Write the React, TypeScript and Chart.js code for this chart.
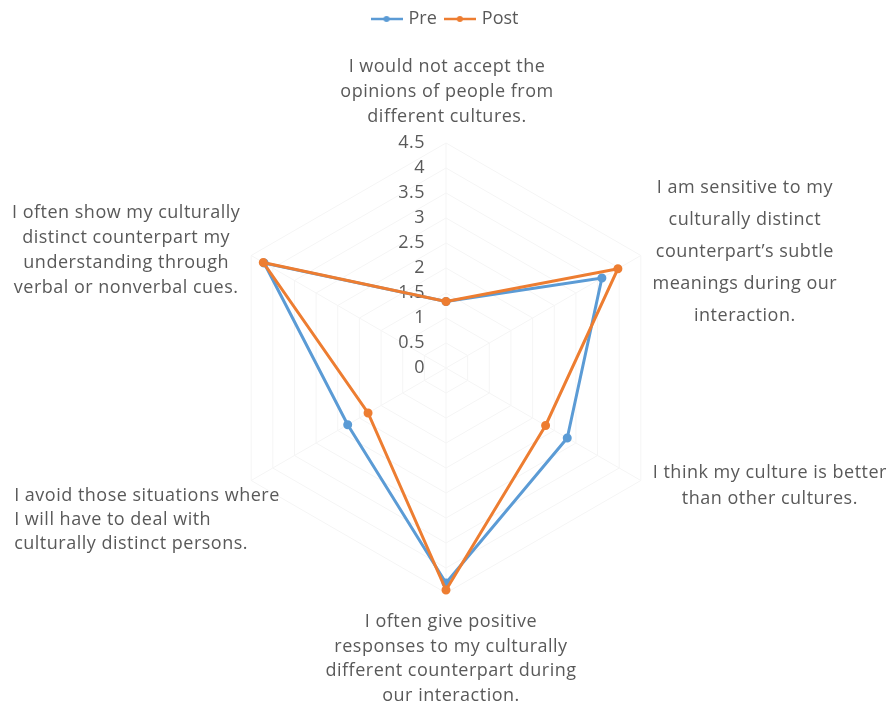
import React, { useEffect, useRef } from 'react';
import { Chart, registerables } from 'chart.js';

Chart.register(...registerables);

// ---- data ----
const categories: string[][] = [
  ['I would not accept the', 'opinions of people from', 'different cultures.'],
  ['I am sensitive to my', 'culturally distinct', 'counterpart\u2019s subtle', 'meanings during our', 'interaction.'],
  ['I think my culture is better', 'than other cultures.'],
  ['I often give positive', 'responses to my culturally', 'different counterpart during', 'our interaction.'],
  ['I avoid those situations where', 'I will have to deal with', 'culturally distinct persons.'],
  ['I often show my culturally', 'distinct counterpart my', 'understanding through', 'verbal or nonverbal cues.'],
];
const seriesNames = ['Pre', 'Post'];
const preValues = [1.33, 3.6, 2.8, 4.3, 2.27, 4.2];
const postValues = [1.33, 3.97, 2.3, 4.44, 1.8, 4.22];
const axisMin = 0;
const axisMax = 4.5;
const axisStep = 0.5;

// ---- style ----
const FONT = '"Open Sans", "Noto Sans", sans-serif';
const FONT_SIZE = 18;
const LETTER_SPACING = '0.5px';
const TEXT_COLOR = '#595959';
const PRE_COLOR = '#5B9BD5';
const POST_COLOR = '#ED7D31';
const GRID_COLOR = '#f5f5f5';

// label placement relative to the axis end point (offsets of block centre)
const labelLayout = [
  { dx: 1, dy: -51, lh: 25, align: 'center' },
  { dx: 104, dy: -4, lh: 32, align: 'center' },
  { dx: 129, dy: 5, lh: 26, align: 'center' },
  { dx: 5, dy: 66, lh: 24.5, align: 'center' },
  { dx: -237, dy: 39, lh: 24, align: 'left' },
  { dx: -125, dy: -5, lh: 25, align: 'center' },
];

function legendMarker(color: string): HTMLCanvasElement {
  const c = document.createElement('canvas');
  c.width = 32;
  c.height = 8;
  const g = c.getContext('2d')!;
  g.strokeStyle = color;
  g.lineWidth = 2.5;
  g.beginPath();
  g.moveTo(0, 4);
  g.lineTo(32, 4);
  g.stroke();
  g.fillStyle = color;
  g.beginPath();
  g.arc(16, 4, 3, 0, Math.PI * 2);
  g.fill();
  return c;
}

const labelPlugin = {
  id: 'excelLabels',
  beforeDatasetsDraw(chart: any) {
    const scale = chart.scales.r;
    const ctx = chart.ctx as any;
    ctx.save();
    ctx.font = `${FONT_SIZE}px ${FONT}`;
    ctx.letterSpacing = LETTER_SPACING;
    ctx.fillStyle = TEXT_COLOR;
    ctx.textBaseline = 'middle';
    ctx.textAlign = 'right';
    scale.ticks.forEach((t: any) => {
      const d = scale.getDistanceFromCenterForValue(t.value);
      ctx.fillText(String(t.value), scale.xCenter - 21, scale.yCenter - d);
    });
    (chart.data.labels as string[][]).forEach((lines, i) => {
      const p = scale.getPointPosition(i, scale.drawingArea);
      const L = labelLayout[i];
      const y0 = p.y + L.dy - ((lines.length - 1) * L.lh) / 2;
      ctx.textAlign = L.align as CanvasTextAlign;
      lines.forEach((line, k) => ctx.fillText(line, p.x + L.dx, y0 + k * L.lh));
    });
    ctx.restore();
  },
};

export default function App() {
  const ref = useRef<HTMLCanvasElement | null>(null);

  useEffect(() => {
    if (!ref.current) return;
    const markers = [legendMarker(PRE_COLOR), legendMarker(POST_COLOR)];
    const colors = [PRE_COLOR, POST_COLOR];
    const chart = new Chart(ref.current, {
      type: 'radar',
      data: {
        labels: categories,
        datasets: [
          {
            label: seriesNames[0],
            data: preValues,
            borderColor: PRE_COLOR,
            backgroundColor: PRE_COLOR,
            pointBackgroundColor: PRE_COLOR,
            pointBorderColor: PRE_COLOR,
            borderWidth: 3,
            pointRadius: 3,
            fill: false,
            order: 1,
          },
          {
            label: seriesNames[1],
            data: postValues,
            borderColor: POST_COLOR,
            backgroundColor: POST_COLOR,
            pointBackgroundColor: POST_COLOR,
            pointBorderColor: POST_COLOR,
            borderWidth: 3,
            pointRadius: 3,
            fill: false,
            order: 0,
          },
        ],
      },
      options: {
        animation: false,
        responsive: true,
        maintainAspectRatio: false,
        layout: { padding: { left: 221, right: 217, top: 0, bottom: 6 } },
        plugins: {
          legend: {
            position: 'top',
            labels: {
              usePointStyle: true,
              pointStyleWidth: 26,
              padding: 10,
              font: { size: FONT_SIZE, family: FONT },
              color: TEXT_COLOR,
              generateLabels: (ch: any) =>
                ch.data.datasets.map((ds: any, i: number) => ({
                  text: ds.label,
                  fillStyle: colors[i],
                  strokeStyle: colors[i],
                  lineWidth: 0,
                  pointStyle: markers[i],
                  hidden: false,
                  datasetIndex: i,
                  fontColor: TEXT_COLOR,
                })),
            },
          },
          tooltip: { enabled: false },
        },
        scales: {
          r: {
            min: axisMin,
            max: axisMax,
            ticks: { stepSize: axisStep, display: false },
            grid: { color: GRID_COLOR, lineWidth: 1 },
            angleLines: { color: GRID_COLOR, lineWidth: 1 },
            pointLabels: { display: false },
          },
        },
      },
      plugins: [labelPlugin],
    } as any);
    return () => chart.destroy();
  }, []);

  return (
    <div style={{ position: 'absolute', left: 0, top: 0, width: 888, height: 704, background: '#fff' }}>
      <canvas ref={ref} />
    </div>
  );
}
